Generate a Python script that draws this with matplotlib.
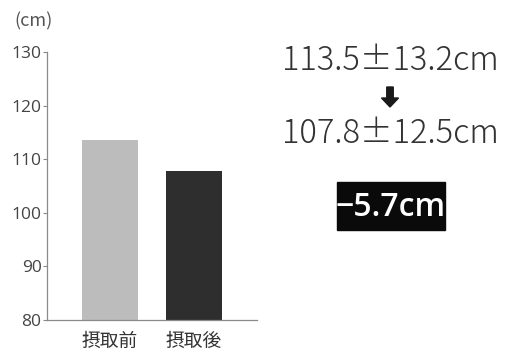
import matplotlib
matplotlib.use("Agg")
import matplotlib.pyplot as plt
from matplotlib.patches import Rectangle, FancyArrow

plt.rcParams["font.family"] = ["Open Sans", "Noto Sans CJK JP", "DejaVu Sans"]

# Waist circumference before / after intake
categories = ["摂取前", "摂取後"]
means = [113.5, 107.8]
sds = [13.2, 12.5]
bar_colors = ["#bcbcbc", "#2e2e2e"]
y_ticks = [80, 90, 100, 110, 120, 130]
change = means[1] - means[0]

fig = plt.figure(figsize=(5.07, 3.51), dpi=100)
ax = fig.add_axes([0.093, 0.088, 0.414, 0.764])

ax.bar(range(len(categories)), means, width=0.667, color=bar_colors, zorder=2)
ax.set_xlim(-0.75, 1.75)
ax.set_ylim(80, 130)
ax.set_yticks(y_ticks)
ax.set_xticks(range(len(categories)))
ax.set_xticklabels(categories, fontsize=13.5, family=["Noto Sans CJK JP"], color="#333333")
ax.tick_params(axis="y", length=3, width=0.8, color="#888888", labelsize=12.5,
               labelcolor="#444444", pad=1)
ax.tick_params(axis="x", length=0, pad=8)
for s in ["top", "right"]:
    ax.spines[s].set_visible(False)
for s in ["left", "bottom"]:
    ax.spines[s].set_color("#8a8a8a")
    ax.spines[s].set_linewidth(0.9)

fig.text(0.028, 0.94, "(cm)", fontsize=13, color="#555555", ha="left", va="center",
         family=["Noto Sans CJK JP"])

# summary on the right
summary_font = dict(fontsize=23.5, color="#333333", ha="center", va="center",
                    family=["Noto Sans CJK JP"], weight="light")
fig.text(3.90 / 5.07, 1 - 61 / 351, f"{means[0]:.1f}±{sds[0]:.1f}cm", **summary_font)
fig.text(3.90 / 5.07, 1 - 134 / 351, f"{means[1]:.1f}±{sds[1]:.1f}cm", **summary_font)

arrow = FancyArrow(3.90, 2.64, 0, -0.20, width=0.065, head_width=0.17,
                   head_length=0.09, length_includes_head=True,
                   color="#1a1a1a", transform=fig.dpi_scale_trans)
fig.patches.append(arrow)

box = Rectangle((3.37, 1.21), 1.08, 0.48, color="#0a0a0a",
                transform=fig.dpi_scale_trans)
fig.patches.append(box)
fig.text(3.91 / 5.07, 1.43 / 3.51, f"−{abs(change):.1f}cm", fontsize=23,
         family=["Open Sans"], weight="semibold", color="white",
         ha="center", va="center")

fig.savefig("out.png", dpi=100)
